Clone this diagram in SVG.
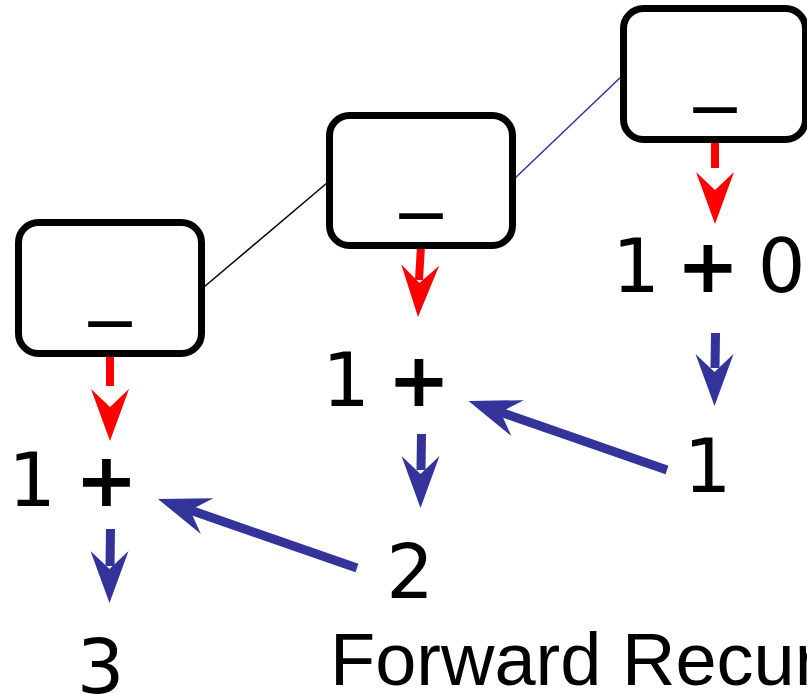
<svg xmlns="http://www.w3.org/2000/svg" xmlns:xlink="http://www.w3.org/1999/xlink" width="807" height="694" viewBox="0 0 807 694">
  <style>
    .box { fill: #ffffff; stroke: #000000; stroke-width: 7; }
    .blank { font-family: "DejaVu Sans", Verdana, sans-serif; font-size: 84px; fill: #000000; text-anchor: middle; }
    .num { font-family: "DejaVu Sans", Verdana, sans-serif; font-size: 75px; fill: #000000; text-anchor: middle; }
    .plus { font-weight: bold; }
    .title { font-family: "Liberation Sans", Arial, sans-serif; font-size: 74px; fill: #000000; }
    .red-shaft { stroke: #ff0000; stroke-width: 8; fill: none; }
    .blue-shaft { stroke: #333399; stroke-width: 9; fill: none; }
    .red-head { fill: #ff0000; }
    .blue-head { fill: #333399; }
    .link { fill: none; stroke-width: 1.5; }
  </style>
  <defs>
    <!-- arrowhead with its tip at the origin, pointing along +x -->
    <path id="head" d="M0 0 L-52 -19 L-34 0 L-52 19 Z"/>
  </defs>

  <!-- connectors -->
  <g id="connectors">
    <line class="link" x1="204" y1="287" x2="327" y2="183" stroke="#000000"/>
    <line class="link" x1="512" y1="181" x2="623" y2="75" stroke="#333399"/>

    <!-- box -> "1 +" (red) -->
    <line class="red-shaft" x1="110" y1="354" x2="110" y2="386"/>
    <use xlink:href="#head" class="red-head" transform="translate(110 441) rotate(90)"/>
    <line class="red-shaft" x1="421" y1="246" x2="419" y2="280"/>
    <use xlink:href="#head" class="red-head" transform="translate(418 317) rotate(92.4)"/>
    <line class="red-shaft" x1="715" y1="143" x2="715" y2="168"/>
    <use xlink:href="#head" class="red-head" transform="translate(715 224) rotate(90)"/>

    <!-- sums flowing down (blue) -->
    <line class="blue-shaft" x1="715.5" y1="333" x2="715" y2="368"/>
    <use xlink:href="#head" class="blue-head" transform="translate(714.5 406) rotate(90)"/>
    <line class="blue-shaft" x1="421.5" y1="434" x2="421" y2="470"/>
    <use xlink:href="#head" class="blue-head" transform="translate(420.5 508) rotate(90)"/>
    <line class="blue-shaft" x1="110.5" y1="529" x2="110" y2="566"/>
    <use xlink:href="#head" class="blue-head" transform="translate(109.5 603) rotate(90)"/>

    <!-- results passed back to the previous call (blue) -->
    <line class="blue-shaft" x1="667" y1="470" x2="500" y2="412"/>
    <use xlink:href="#head" class="blue-head" transform="translate(468.5 401) rotate(199.2)"/>
    <line class="blue-shaft" x1="357" y1="568" x2="190" y2="510"/>
    <use xlink:href="#head" class="blue-head" transform="translate(158 499) rotate(199.2)"/>
  </g>

  <!-- call frames -->
  <g id="call-1">
    <rect class="box" x="18.5" y="222.5" width="183" height="131" rx="20"/>
    <text class="blank" x="110" y="307">_</text>
  </g>
  <g id="call-2">
    <rect class="box" x="329.5" y="115.5" width="183" height="130" rx="20"/>
    <text class="blank" x="421" y="199">_</text>
  </g>
  <g id="call-3">
    <rect class="box" x="623.5" y="8.5" width="182" height="131" rx="20"/>
    <text class="blank" x="715" y="93">_</text>
  </g>

  <!-- expressions and results -->
  <g id="expr-3">
    <text class="num" y="292"><tspan x="636">1</tspan><tspan class="plus" x="708">+</tspan><tspan x="781.5">0</tspan></text>
  </g>
  <g id="expr-2">
    <text class="num" y="406"><tspan x="346">1</tspan><tspan class="plus" x="419">+</tspan></text>
  </g>
  <g id="expr-1">
    <text class="num" y="506"><tspan x="32">1</tspan><tspan class="plus" x="106.5">+</tspan></text>
  </g>
  <g id="result-3">
    <text class="num" x="707.5" y="492">1</text>
  </g>
  <g id="result-2">
    <text class="num" x="410" y="598">2</text>
  </g>
  <g id="result-1">
    <text class="num" x="100.5" y="693">3</text>
  </g>

  <text class="title" x="330" y="685">Forward Recursion</text>
</svg>
